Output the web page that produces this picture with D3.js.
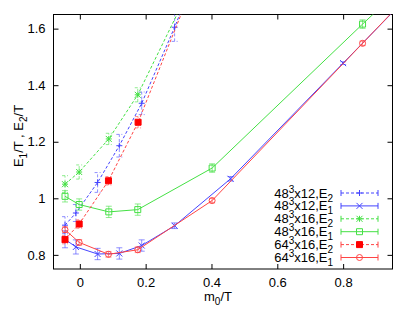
<!DOCTYPE html>
<html>
<head>
<meta charset="utf-8">
<script src="https://cdn.jsdelivr.net/npm/d3@7"></script>
<style>
  body { margin: 0; background: #fff; }
  text { font-family: "Liberation Sans", Arial, sans-serif; font-size: 13px; }
</style>
</head>
<body>
<div id="chart"></div>
<script>
// x values (m0/T), y values (E/T) and error bars for each series
const blueE2X = [-0.045, -0.012, 0.054, 0.12, 0.188, 0.288, 0.4];
const blueE2Y = [0.905, 0.948, 1.056, 1.186, 1.336, 1.605, 1.93];
const blueE2Err = [0.03, 0.03, 0.035, 0.04, 0.04, 0.05, 0.05];

const blueE1X = [-0.045, -0.012, 0.054, 0.12, 0.188, 0.288, 0.458, 0.8, 1.0];
const blueE1Y = [0.855, 0.828, 0.803, 0.805, 0.833, 0.903, 1.069, 1.478, 1.717];
const blueE1Err = [0.03, 0.025, 0.02, 0.02, 0.02, 0.01, 0.008, 0.005, 0.005];

const greenE2X = [-0.045, -0.002, 0.088, 0.176, 0.4];
const greenE2Y = [1.05, 1.093, 1.21, 1.366, 1.9];
const greenE2Err = [0.03, 0.025, 0.02, 0.025, 0.03];

const greenE1X = [-0.045, -0.002, 0.088, 0.176, 0.402, 0.859, 1.0];
const greenE1Y = [1.007, 0.978, 0.952, 0.96, 1.107, 1.616, 1.77];
const greenE1Err = [0.02, 0.02, 0.02, 0.02, 0.015, 0.015, 0.01];

const redE2X = [-0.045, -0.002, 0.087, 0.177, 0.4];
const redE2Y = [0.854, 0.909, 1.062, 1.269, 1.92];
const redE2Err = [0.015, 0.015, 0.015, 0.02, 0.02];

const redE1X = [-0.045, -0.002, 0.087, 0.176, 0.402, 0.859, 1.0];
const redE1Y = [0.889, 0.844, 0.802, 0.818, 0.992, 1.548, 1.72];
const redE1Err = [0.01, 0.01, 0.01, 0.01, 0.008, 0.008, 0.005];

const xTicks = [0, 0.2, 0.4, 0.6, 0.8];
const yTicks = [0.8, 1, 1.2, 1.4, 1.6];

const series = [
  { lat: '48', nt: '12', e: '2', xs: blueE2X, ys: blueE2Y, err: blueE2Err, color: '#4444ff', dashed: true, marker: 'plus' },
  { lat: '48', nt: '12', e: '1', xs: blueE1X, ys: blueE1Y, err: blueE1Err, color: '#4444ff', dashed: false, marker: 'cross' },
  { lat: '48', nt: '16', e: '2', xs: greenE2X, ys: greenE2Y, err: greenE2Err, color: '#44e044', dashed: true, marker: 'star' },
  { lat: '48', nt: '16', e: '1', xs: greenE1X, ys: greenE1Y, err: greenE1Err, color: '#44e044', dashed: false, marker: 'square' },
  { lat: '64', nt: '16', e: '2', xs: redE2X, ys: redE2Y, err: redE2Err, color: '#ff4444', dashed: true, marker: 'fsquare' },
  { lat: '64', nt: '16', e: '1', xs: redE1X, ys: redE1Y, err: redE1Err, color: '#ff4444', dashed: false, marker: 'circle' }
];

const W = 415, H = 309;
const plotL = 53.5, plotR = 392.5, plotT = 14.5, plotB = 269;

const svg = d3.select('#chart').append('svg')
  .attr('width', W).attr('height', H);

const x = d3.scaleLinear().domain([-0.08, 0.95]).range([plotL, plotR]);
const y = d3.scaleLinear().domain([0.75, 1.65]).range([plotB, plotT]);

// axes with inward ticks on all four sides
const fmt = d3.format('');
svg.append('g').attr('transform', `translate(${plotL},0)`)
  .call(d3.axisLeft(y).tickValues(yTicks).tickSize(-5).tickPadding(8).tickFormat(fmt));
svg.append('g').attr('transform', `translate(${plotR},0)`)
  .call(d3.axisRight(y).tickValues(yTicks).tickSize(-5).tickFormat(''));
svg.append('g').attr('transform', `translate(0,${plotB})`)
  .call(d3.axisBottom(x).tickValues(xTicks).tickSize(-5).tickPadding(9).tickFormat(fmt));
svg.append('g').attr('transform', `translate(0,${plotT})`)
  .call(d3.axisTop(x).tickValues(xTicks).tickSize(-5).tickFormat(''));

svg.selectAll('.domain').remove();
svg.selectAll('.tick line').attr('stroke', '#000');
svg.selectAll('.tick text').attr('fill', '#000').style('font-size', '13px')
  .style('font-family', '"Liberation Sans", Arial, sans-serif');

svg.append('rect')
  .attr('x', plotL).attr('y', plotT)
  .attr('width', plotR - plotL).attr('height', plotB - plotT)
  .attr('fill', 'none').attr('stroke', '#000').attr('stroke-width', 1);

svg.append('clipPath').attr('id', 'clip')
  .append('rect')
  .attr('x', plotL).attr('y', plotT)
  .attr('width', plotR - plotL).attr('height', plotB - plotT);

const markerPath = (type, cx, cy) => {
  const s = 3;
  const plus = `M${cx - s},${cy}H${cx + s}M${cx},${cy - s}V${cy + s}`;
  const cross = `M${cx - s},${cy - s}L${cx + s},${cy + s}M${cx - s},${cy + s}L${cx + s},${cy - s}`;
  if (type === 'plus') return plus;
  if (type === 'cross') return cross;
  if (type === 'star') return plus + cross;
  return `M${cx - s},${cy - s}H${cx + s}V${cy + s}H${cx - s}Z`;
};

const drawMarker = (g, s, cx, cy) => {
  if (s.marker === 'circle') {
    g.append('circle').attr('cx', cx).attr('cy', cy).attr('r', 3)
      .attr('fill', 'none').attr('stroke', s.color);
  } else {
    g.append('path').attr('d', markerPath(s.marker, cx, cy))
      .attr('fill', s.marker === 'fsquare' ? '#ff0000' : 'none')
      .attr('stroke', s.marker === 'fsquare' ? '#ff0000' : s.color);
  }
};

const plot = svg.append('g').attr('clip-path', 'url(#clip)');

series.forEach((s) => {
  const pts = s.xs.map((v, i) => ({ x: v, y: s.ys[i], e: s.err[i] }));
  const g = plot.append('g');

  g.append('path')
    .datum(pts)
    .attr('fill', 'none')
    .attr('stroke', s.color)
    .attr('stroke-width', 1)
    .attr('stroke-dasharray', s.dashed ? '3,2' : null)
    .attr('d', d3.line().x((d) => x(d.x)).y((d) => y(d.y)));

  // error bars
  pts.forEach((d) => {
    const cx = x(d.x), y0 = y(d.y - d.e), y1 = y(d.y + d.e);
    g.append('path')
      .attr('d', `M${cx},${y0}V${y1}M${cx - 3},${y0}H${cx + 3}M${cx - 3},${y1}H${cx + 3}`)
      .attr('fill', 'none')
      .attr('stroke', s.color)
      .attr('stroke-opacity', 0.6)
      .attr('stroke-dasharray', s.dashed ? '3,2' : null);
    drawMarker(g, s, cx, y(d.y));
  });
});

// legend
const lg = svg.append('g');
series.forEach((s, i) => {
  const base = 197.5 + i * 12.9;
  const ly = base - 4.5;
  const t = lg.append('text').attr('x', 333).attr('y', base).attr('text-anchor', 'end').attr('fill', '#000');
  t.append('tspan').text(s.lat);
  t.append('tspan').attr('dy', -5).style('font-size', '10px').text('3');
  t.append('tspan').attr('dy', 5).text('x' + s.nt + ',E');
  t.append('tspan').attr('dy', 4).style('font-size', '10px').text(s.e);

  const x0 = 341, x1 = 378, xm = 359.5;
  lg.append('path')
    .attr('d', `M${x0},${ly - 3}V${ly + 3}M${x1},${ly - 3}V${ly + 3}`)
    .attr('fill', 'none')
    .attr('stroke', s.color);
  lg.append('path')
    .attr('d', `M${x0},${ly}H${x1}`)
    .attr('fill', 'none')
    .attr('stroke', s.color)
    .attr('stroke-dasharray', s.dashed ? '3,2' : null);
  drawMarker(lg, s, xm, ly);
});

// axis labels
const xl = svg.append('text').attr('x', 218).attr('y', 301).attr('text-anchor', 'middle');
xl.append('tspan').text('m');
xl.append('tspan').attr('dy', 4).style('font-size', '10px').text('0');
xl.append('tspan').attr('dy', -4).text('/T');

const yl = svg.append('text')
  .attr('transform', 'translate(22.5,136) rotate(-90)')
  .attr('text-anchor', 'middle');
yl.append('tspan').text('E');
yl.append('tspan').attr('dy', 4).style('font-size', '10px').text('1');
yl.append('tspan').attr('dy', -4).text('/T , E');
yl.append('tspan').attr('dy', 4).style('font-size', '10px').text('2');
yl.append('tspan').attr('dy', -4).text('/T');
</script>
</body>
</html>
